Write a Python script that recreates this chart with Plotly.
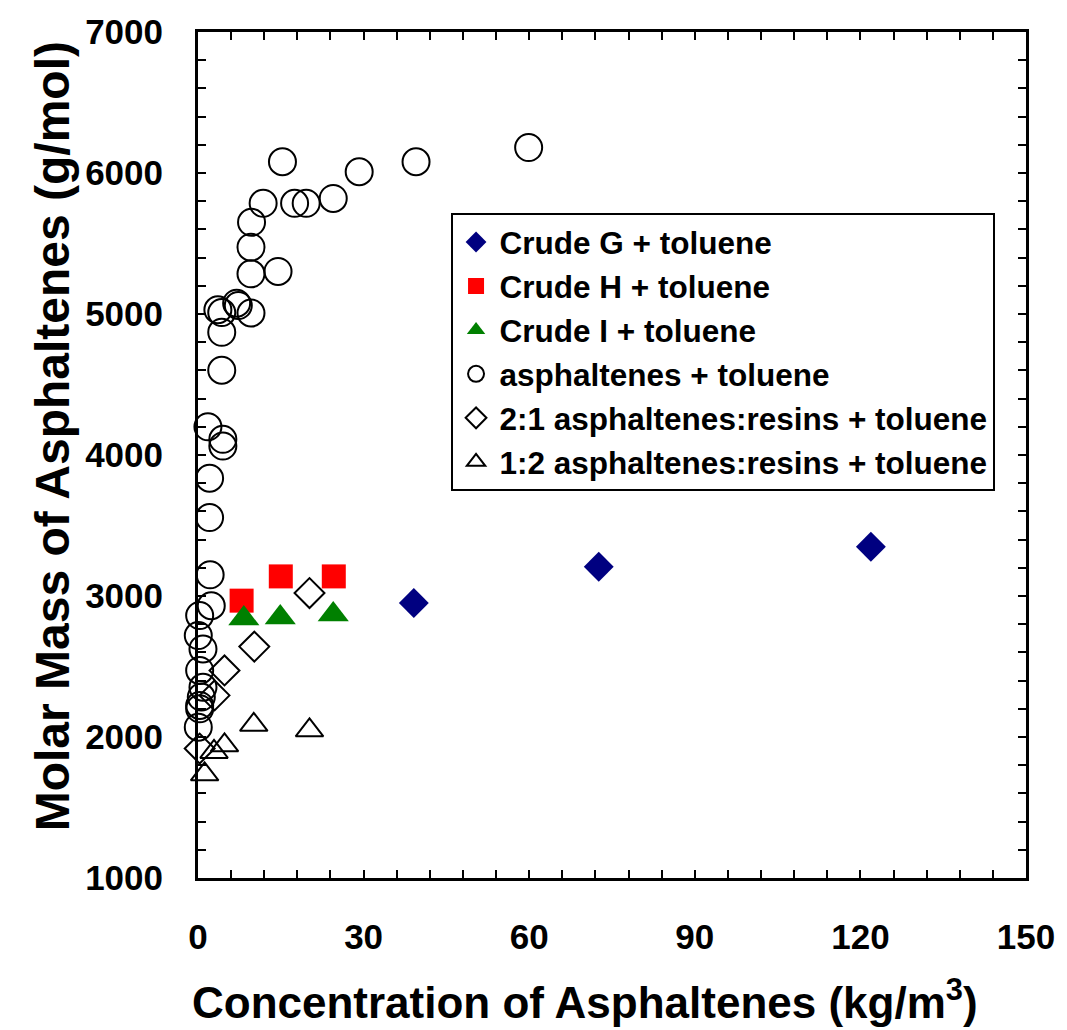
import plotly.graph_objects as go

# Crude oils diluted in toluene
crude_g_x = [39.1, 72.6, 121.9]
crude_g_y = [2950, 3207, 3349]
crude_h_x = [7.9, 15.0, 24.6]
crude_h_y = [2967, 3139, 3139]
crude_i_x = [8.3, 14.9, 24.5]
crude_i_y = [2840, 2847, 2868]

# Asphaltenes in toluene
asph_x = [0.05, 0.3, 0.3, 0.6, 0.9, 0.3, 0.9, 0.05, 0.3, 2.4, 2.2, 2.1, 2.1, 1.8,
          4.5, 4.5, 4.3, 4.3, 3.6, 4.3, 7.0, 7.3, 9.6, 9.6, 14.5, 9.6, 9.7, 11.8,
          17.5, 19.6, 24.5, 15.3, 29.2, 39.5, 59.9]
asph_y = [2070, 2200, 2224, 2283, 2353, 2472, 2625, 2719, 2861, 2931, 3150, 3556,
          3835, 4200, 4111, 4063, 4601, 4870, 5030, 5010, 5077, 5060, 5007, 5285,
          5302, 5474, 5650, 5785, 5785, 5785, 5820, 6080, 6009, 6080, 6180]

# Asphaltene:resin blends in toluene
ar21_x = [0.3, 3.0, 4.8, 10.2, 20.2]
ar21_y = [1918, 2295, 2472, 2641, 3021]
ar12_x = [1.2, 2.9, 4.8, 10.1, 20.2]
ar12_y = [1735, 1894, 1941, 2086, 2047]

x_ticks = [0, 30, 60, 90, 120, 150]
y_ticks = [1000, 2000, 3000, 4000, 5000, 6000, 7000]

x_title = "Concentration of Asphaltenes (kg/m<sup>3</sup>)"
y_title = "Molar Mass of Asphaltenes (g/mol)"

FONT = "Liberation Sans, Arial, sans-serif"

series = [
    ("Crude G + toluene", crude_g_x, crude_g_y,
     dict(symbol="diamond", size=23, color="#000080", line=dict(width=0))),
    ("Crude H + toluene", crude_h_x, crude_h_y,
     dict(symbol="square", size=24, color="#ff0000", line=dict(width=0))),
    ("Crude I + toluene", crude_i_x, crude_i_y,
     dict(symbol="triangle-up", size=27, color="#008000", line=dict(width=0))),
    ("asphaltenes + toluene", asph_x, asph_y,
     dict(symbol="circle-open", size=27, color="black", line=dict(width=2))),
    ("2:1 asphaltenes:resins + toluene", ar21_x, ar21_y,
     dict(symbol="diamond-open", size=23, color="black", line=dict(width=2))),
    ("1:2 asphaltenes:resins + toluene", ar12_x, ar12_y,
     dict(symbol="triangle-up-open", size=24, color="black", line=dict(width=2))),
]

fig = go.Figure()
for i, (name, xs, ys, mk) in enumerate(series):
    fig.add_trace(go.Scatter(
        x=xs, y=ys, mode="markers", name=name, marker=mk,
        cliponaxis=False, legendgroup=f"g{i}",
    ))

axis_common = dict(
    showline=True, linecolor="black", linewidth=3, mirror="ticks",
    ticks="inside", ticklen=8, tickwidth=2, tickcolor="black",
    showgrid=False, zeroline=False,
    tickfont=dict(family=FONT, size=35, color="black", weight="bold"),
)

fig.update_xaxes(
    range=[0, 150], tickvals=x_ticks, ticklabelstandoff=26,
    minor=dict(dtick=6, ticks="inside", ticklen=8, tickwidth=2, tickcolor="black"),
    **axis_common,
)
fig.update_yaxes(
    range=[1000, 7000], tickvals=y_ticks, ticklabelstandoff=25,
    minor=dict(dtick=200, ticks="inside", ticklen=8, tickwidth=2, tickcolor="black"),
    **axis_common,
)

# Axis titles placed as paper-anchored annotations
fig.add_annotation(
    text=x_title, xref="paper", yref="paper", x=0.4675, y=-0.144,
    xanchor="center", yanchor="middle", showarrow=False,
    font=dict(family=FONT, size=44, color="black", weight="bold"),
)
fig.add_annotation(
    text=y_title, xref="paper", yref="paper", x=-0.176, y=0.5224,
    xanchor="center", yanchor="middle", showarrow=False, textangle=-90,
    font=dict(family=FONT, size=48, color="black", weight="bold"),
)

fig.update_layout(
    width=1067, height=1030,
    margin=dict(l=198, r=37, t=30, b=152),
    paper_bgcolor="white", plot_bgcolor="white",
    showlegend=True,
    legend=dict(
        x=0.305, y=0.786, xanchor="left", yanchor="top",
        bgcolor="white", bordercolor="black", borderwidth=2,
        font=dict(family=FONT, size=31.5, color="black", weight="bold"),
        tracegroupgap=0, itemsizing="trace", itemwidth=37,
    ),
)

fig.write_html("out.html")
